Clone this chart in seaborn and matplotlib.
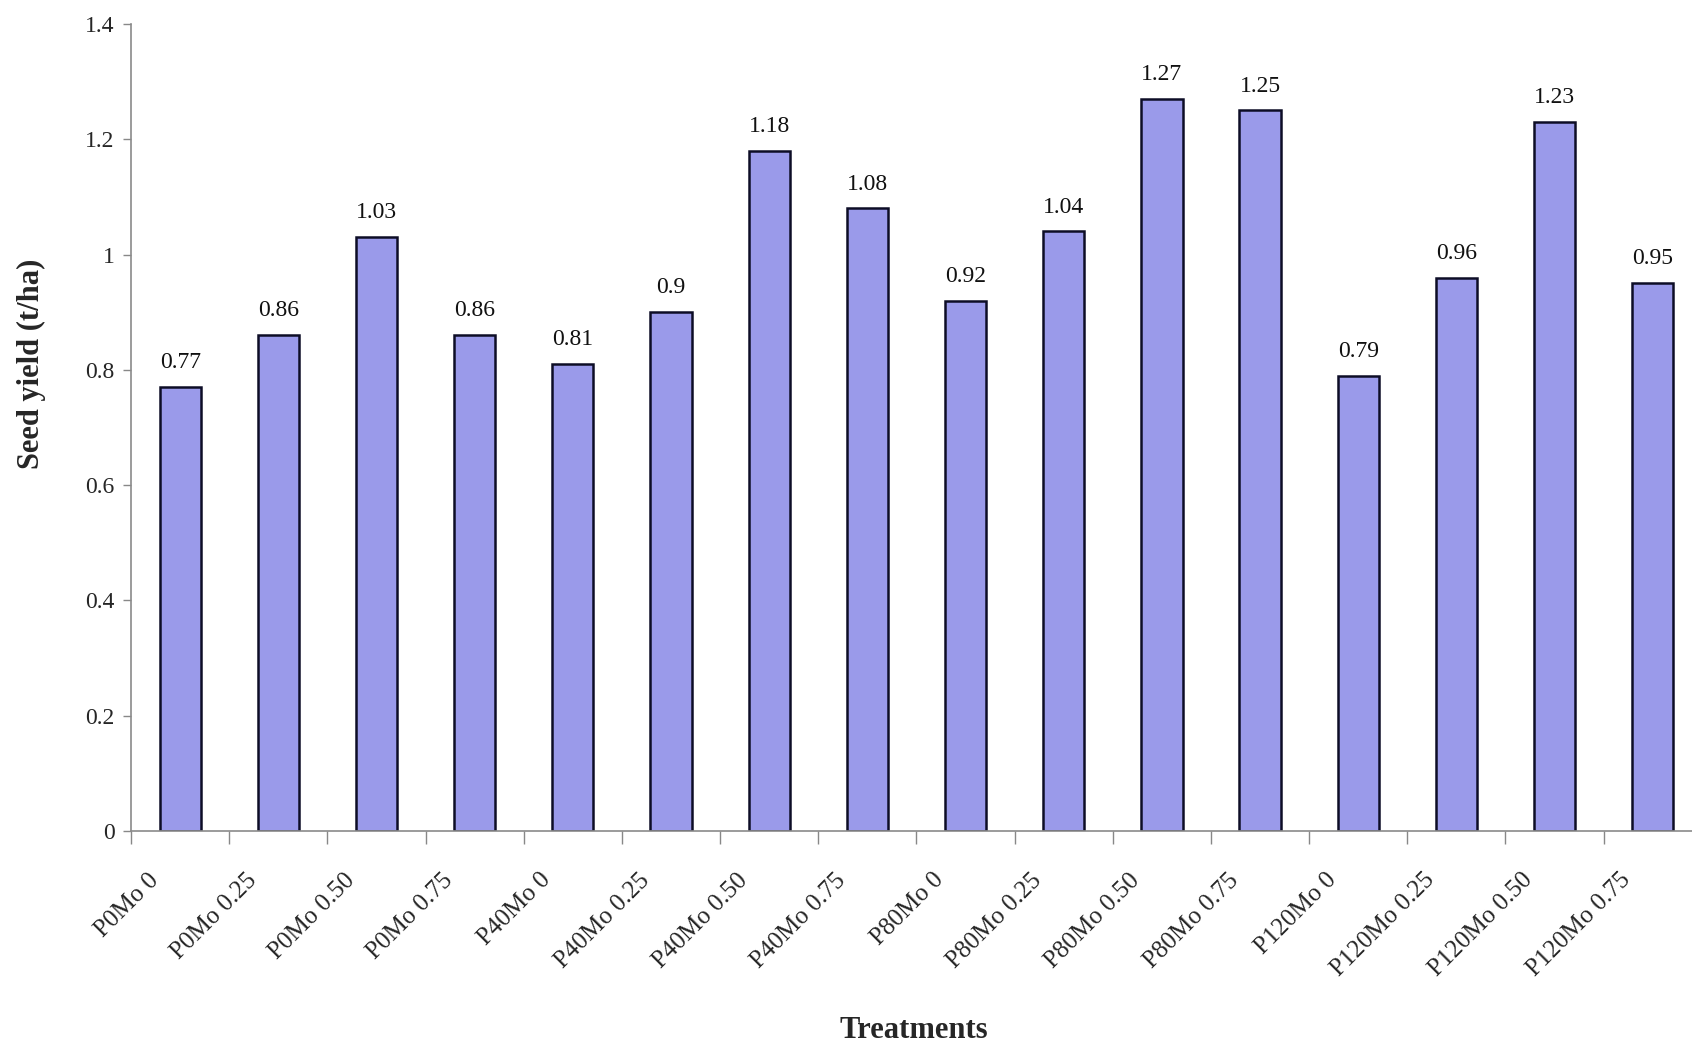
import matplotlib
matplotlib.use("Agg")
import matplotlib.pyplot as plt
import matplotlib.transforms as mtransforms
import numpy as np
import pandas as pd
import seaborn as sns

treatments = [
    "P0Mo 0", "P0Mo 0.25", "P0Mo 0.50", "P0Mo 0.75",
    "P40Mo 0", "P40Mo 0.25", "P40Mo 0.50", "P40Mo 0.75",
    "P80Mo 0", "P80Mo 0.25", "P80Mo 0.50", "P80Mo 0.75",
    "P120Mo 0", "P120Mo 0.25", "P120Mo 0.50", "P120Mo 0.75",
]
seed_yield = [0.77, 0.86, 1.03, 0.86, 0.81, 0.9, 1.18, 1.08,
              0.92, 1.04, 1.27, 1.25, 0.79, 0.96, 1.23, 0.95]
value_labels = ["0.77", "0.86", "1.03", "0.86", "0.81", "0.9", "1.18", "1.08",
                "0.92", "1.04", "1.27", "1.25", "0.79", "0.96", "1.23", "0.95"]
y_ticks = [0, 0.2, 0.4, 0.6, 0.8, 1.0, 1.2, 1.4]
y_tick_labels = ["0", "0.2", "0.4", "0.6", "0.8", "1", "1.2", "1.4"]

df = pd.DataFrame({"Treatment": treatments, "Yield": seed_yield})

sns.set_theme(style="white")
plt.rcParams["font.family"] = ["Liberation Serif", "DejaVu Serif"]

fig = plt.figure(figsize=(16.92, 10.42), dpi=100)
ax = fig.add_axes([0.0775, 0.2025, 0.9283, 0.7745])

sns.barplot(data=df, x="Treatment", y="Yield", order=treatments,
            color="#9a9aea", saturation=1, width=0.42,
            edgecolor="#0d0d26", linewidth=1.8, ax=ax)

ax.set_ylim(0, 1.4)
ax.set_xlim(-0.5, len(treatments) - 0.5)
ax.set_yticks(y_ticks)
ax.set_yticklabels(y_tick_labels, fontsize=17)

# value labels above bars
for i, (v, lab) in enumerate(zip(seed_yield, value_labels)):
    ax.annotate(lab, xy=(i, v), xytext=(0, 10), textcoords="offset points",
                ha="center", va="bottom", fontsize=17, color="#111111")

# tick marks between categories
ax.set_xticks(np.arange(-0.5, len(treatments), 1.0), minor=True)
ax.tick_params(axis="x", which="minor", length=9, width=1, color="#888888",
               direction="out", bottom=True)
ax.tick_params(axis="y", which="major", length=6, width=1, color="#888888",
               direction="out", left=True, pad=6)

# category labels: rotated, ending slightly left of and below the category centre
ax.set_xticks(range(len(treatments)))
ax.tick_params(axis="x", which="major", length=0, pad=0)
ax.set_xticklabels(treatments, rotation=45, ha="right", va="top",
                   rotation_mode="anchor", fontsize=18)
shift = mtransforms.ScaledTranslation(-33 / 100, -38 / 100, fig.dpi_scale_trans)
for lbl in ax.get_xticklabels():
    lbl.set_transform(lbl.get_transform() + shift)

for side in ["top", "right"]:
    ax.spines[side].set_visible(False)
for side in ["left", "bottom"]:
    ax.spines[side].set_color("#8a8a8a")
    ax.spines[side].set_linewidth(1.2)

ax.set_xlabel("Treatments", fontsize=22, fontweight="bold", va="center")
ax.set_ylabel("Seed yield (t/ha)", fontsize=22, fontweight="bold", va="center")
ax.xaxis.set_label_coords(0.498, -0.247)
ax.yaxis.set_label_coords(-0.0634, 0.579)

fig.savefig("out.png", dpi=100, facecolor="white")
